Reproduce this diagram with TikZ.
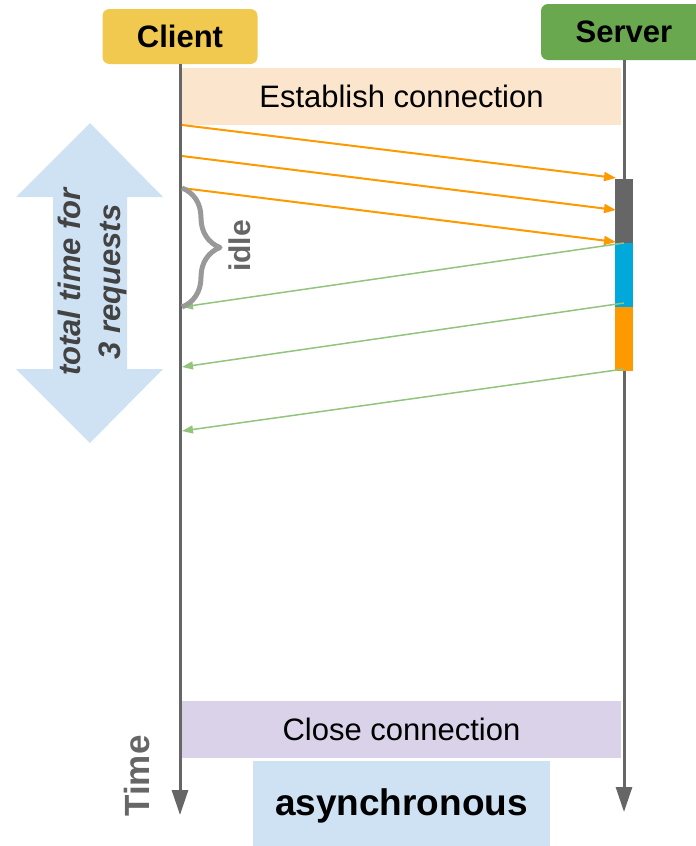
\documentclass[tikz,border=0pt]{standalone}
\usepackage{fontspec}
\setmainfont{Liberation Sans}
\usetikzlibrary{arrows.meta,decorations.pathreplacing}

\definecolor{clientYellow}{HTML}{F1C94F}
\definecolor{serverGreen}{HTML}{6AA84F}
\definecolor{lineGray}{HTML}{666666}
\definecolor{braceGray}{HTML}{999999}
\definecolor{textGray}{HTML}{434343}
\definecolor{peach}{HTML}{FCE5CD}
\definecolor{lavender}{HTML}{D9D2E9}
\definecolor{paleBlue}{HTML}{CFE2F3}
\definecolor{reqOrange}{HTML}{FF9900}
\definecolor{respGreen}{HTML}{93C47D}
\definecolor{workBlue}{HTML}{00A8DB}

\newcommand{\printBar}[3]{\fill [#3] (615,#1) rectangle (633,#2);}

\begin{document}
\begin{tikzpicture}[x=1pt,y=-1pt,line join=round,
    actor/.style={rounded corners=7pt,minimum width=155pt,minimum height=55pt,inner sep=0pt,
      font=\fontsize{31}{37}\selectfont\bfseries},
    phase/.style={minimum width=439pt,minimum height=57pt,inner sep=0pt,
      font=\fontsize{31}{37}\selectfont},
    lifeline/.style={draw=lineGray,line width=3pt,-{Triangle[length=25pt,width=16pt]}},
    request/.style={draw=reqOrange,line width=2pt,-{Triangle[length=12pt,width=9pt]}},
    reply/.style={draw=respGreen,line width=1.5pt,-{Triangle[length=11pt,width=8pt]}}]
  \clip (0,0) rectangle (696,846);

  % total time arrow
  \fill [paleBlue] (90,123) -- (163,197) -- (127,197) -- (127,369) -- (163,369)
    -- (90,443) -- (16,369) -- (53,369) -- (53,197) -- (16,197) -- cycle;
  \node [rotate=90,align=center,text=textGray,font=\fontsize{31}{40}\selectfont\bfseries\itshape]
    (total) at (92,282) {total time for\\3 requests};

  % actors and lifelines
  \node [actor,fill=clientYellow] (client) at (180,36.5) {Client};
  \node [actor,fill=serverGreen,minimum width=166pt,minimum height=56pt] (server) at (624,32) {Server};
  \coordinate (clientEnd) at (180,815);
  \coordinate (serverEnd) at (624,812);
  \draw [lifeline] (client.south) -- (clientEnd);
  \draw [lifeline] (server.south) -- (serverEnd);

  % connection phases
  \node [phase,fill=peach] (open) at (401.5,96) {Establish connection};
  \node [phase,fill=lavender] (close) at (401.5,729.5) {Close connection};
  \node [fill=paleBlue,minimum width=297pt,minimum height=90pt,inner sep=0pt,
    font=\fontsize{37}{44}\selectfont\bfseries] (mode) at (401.5,806) {asynchronous};

  % server work
  \printBar{179}{243}{lineGray}
  \printBar{243}{307}{workBlue}
  \printBar{307}{371}{reqOrange}

  % requests and replies
  \foreach \i/\ys/\ye in {1/125/178, 2/156/210, 3/188/242} {
      \coordinate (req\i) at (182,\ys);
      \coordinate (arr\i) at (616,\ye);
      \draw [request] (req\i) -- (arr\i);
    }
  \foreach \i/\ys/\ye in {1/243/307, 2/303/367, 3/369/431} {
      \coordinate (done\i) at (624,\ys);
      \coordinate (back\i) at (182,\ye);
      \draw [reply] (done\i) -- (back\i);
    }

  % idle brace
  \draw [braceGray,line width=5pt,decorate,decoration={brace,amplitude=38pt}] (req3) -- (back1);
  \node [rotate=90,text=lineGray,font=\fontsize{30}{36}\selectfont\bfseries] (idle) at (240,246) {idle};

  \node [rotate=90,text=lineGray,font=\fontsize{35}{42}\selectfont\bfseries] (time) at (137,776) {Time};
\end{tikzpicture}
\end{document}
